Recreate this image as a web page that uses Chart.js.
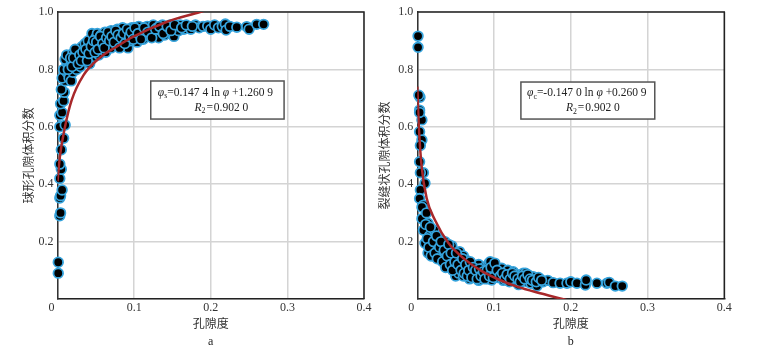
<!DOCTYPE html>
<html>
<head>
<meta charset="utf-8">
<script src="https://cdn.jsdelivr.net/npm/chart.js@4.4.1/dist/chart.umd.min.js"></script>
<style>
  body { margin: 0; background: #fff; }
  #wrap { position: relative; width: 775px; height: 351px; overflow: hidden; }
  canvas { position: absolute; top: 0; }
  #chartA { left: 0; }
  #chartB { left: 375px; }
</style>
</head>
<body>
<div id="wrap">
  <canvas id="chartA" width="375" height="351"></canvas>
  <canvas id="chartB" width="400" height="351"></canvas>
</div>
<script>
// tick labels
const xTickLabels = ['0\u2003', '0.1', '0.2', '0.3', '0.4'];
const yTickLabels = ['', '0.2', '0.4', '0.6', '0.8', '1.0'];

// a: spherical pore volume fraction vs porosity  [porosity, fraction]
const spherePoints = [
  [0.001,0.09],[0.001,0.128],[0.003,0.29],[0.004,0.30],[0.003,0.352],[0.004,0.36],[0.006,0.38],
  [0.003,0.42],[0.005,0.452],[0.003,0.47],[0.005,0.52],[0.008,0.56],[0.003,0.6],[0.010,0.606],
  [0.003,0.64],[0.006,0.65],[0.004,0.68],[0.008,0.69],[0.009,0.72],[0.005,0.73],[0.010,0.76],
  [0.006,0.77],[0.012,0.79],[0.008,0.8],[0.013,0.82],[0.010,0.835],[0.015,0.845],[0.012,0.85],
  [0.016,0.81],[0.015,0.77],[0.018,0.76],[0.02,0.79],[0.018,0.83],[0.02,0.855],[0.022,0.82],
  [0.024,0.86],[0.025,0.80],[0.026,0.84],[0.028,0.87],[0.03,0.81],[0.03,0.855],[0.032,0.88],
  [0.034,0.83],[0.035,0.865],[0.036,0.89],[0.038,0.845],[0.04,0.875],[0.04,0.90],[0.042,0.82],
  [0.043,0.86],[0.045,0.925],[0.046,0.89],[0.048,0.845],[0.05,0.87],[0.05,0.91],[0.052,0.925],
  [0.054,0.85],[0.055,0.895],[0.057,0.92],[0.058,0.87],[0.06,0.905],[0.062,0.93],[0.063,0.86],
  [0.065,0.885],[0.067,0.915],[0.07,0.935],[0.07,0.875],[0.072,0.9],[0.075,0.92],[0.077,0.885],
  [0.078,0.94],[0.08,0.905],[0.082,0.89],[0.084,0.93],[0.085,0.945],[0.087,0.905],[0.09,0.92],
  [0.092,0.875],[0.093,0.935],[0.095,0.9],[0.097,0.945],[0.1,0.915],[0.102,0.935],[0.104,0.895],
  [0.106,0.95],[0.108,0.92],[0.11,0.94],[0.112,0.905],[0.115,0.93],[0.117,0.95],[0.12,0.915],
  [0.122,0.94],[0.125,0.955],[0.127,0.925],[0.13,0.945],[0.132,0.91],[0.135,0.935],[0.137,0.955],
  [0.14,0.92],[0.142,0.945],[0.145,0.93],[0.147,0.955],[0.15,0.94],[0.152,0.915],[0.155,0.95],
  [0.158,0.935],[0.16,0.955],[0.165,0.94],[0.17,0.95],[0.174,0.94],[0.18,0.955],[0.185,0.945],
  [0.19,0.95],[0.196,0.951],[0.2,0.94],[0.205,0.955],[0.21,0.945],[0.215,0.95],[0.219,0.958],
  [0.22,0.937],[0.225,0.95],[0.234,0.947],[0.247,0.949],[0.25,0.94],[0.26,0.957],[0.269,0.957],
  [0.014,0.80],[0.017,0.84],[0.019,0.81],[0.021,0.84],[0.023,0.87],[0.027,0.82],[0.029,0.85],
  [0.031,0.83],[0.033,0.86],[0.037,0.87],[0.039,0.83],[0.041,0.855],[0.044,0.88],[0.047,0.9],
  [0.049,0.86],[0.051,0.895],[0.053,0.87],[0.056,0.915],[0.059,0.89],[0.061,0.875],[0.064,0.91],
  [0.066,0.93],[0.068,0.9],[0.071,0.915],[0.074,0.895],[0.076,0.935],[0.079,0.92],[0.081,0.875],
  [0.083,0.91],[0.086,0.925],[0.088,0.89],[0.091,0.94],[0.094,0.915],[0.096,0.93],[0.099,0.905],
  [0.101,0.945],[0.105,0.925],[0.109,0.905],[0.113,0.945],[0.118,0.93],[0.123,0.91],[0.128,0.94],
  [0.133,0.95],[0.138,0.925],[0.143,0.95],[0.148,0.935],[0.153,0.955],[0.162,0.945],[0.168,0.955],
  [0.176,0.95]
];

// b: crack-like pore volume fraction vs porosity  [porosity, fraction]
const crackPoints = [
  [0.001,0.916],[0.001,0.877],[0.0035,0.703],[0.002,0.71],[0.003,0.658],[0.006,0.624],[0.003,0.65],
  [0.003,0.583],[0.006,0.554],[0.004,0.535],[0.003,0.478],[0.008,0.44],[0.004,0.44],[0.01,0.403],
  [0.004,0.38],[0.003,0.35],[0.008,0.327],[0.006,0.32],[0.006,0.28],[0.008,0.24],[0.014,0.264],
  [0.012,0.3],[0.01,0.194],[0.019,0.205],[0.014,0.16],[0.016,0.22],[0.02,0.17],[0.022,0.24],
  [0.024,0.19],[0.027,0.17],[0.028,0.21],[0.03,0.145],[0.032,0.185],[0.034,0.16],[0.036,0.153],
  [0.036,0.2],[0.038,0.13],[0.04,0.113],[0.04,0.17],[0.042,0.145],[0.045,0.185],[0.047,0.125],
  [0.048,0.16],[0.05,0.08],[0.05,0.14],[0.052,0.105],[0.054,0.09],[0.055,0.165],[0.056,0.13],
  [0.058,0.115],[0.06,0.08],[0.06,0.15],[0.062,0.1],[0.064,0.135],[0.066,0.113],[0.068,0.07],
  [0.07,0.12],[0.072,0.095],[0.074,0.085],[0.075,0.078],[0.077,0.11],[0.08,0.065],[0.08,0.12],
  [0.082,0.095],[0.085,0.075],[0.087,0.11],[0.09,0.085],[0.092,0.07],[0.093,0.124],[0.095,0.13],
  [0.097,0.066],[0.1,0.095],[0.102,0.115],[0.105,0.075],[0.107,0.09],[0.11,0.107],[0.112,0.065],
  [0.115,0.085],[0.118,0.1],[0.12,0.06],[0.122,0.08],[0.125,0.095],[0.128,0.066],[0.13,0.085],
  [0.132,0.05],[0.135,0.075],[0.138,0.09],[0.141,0.09],[0.143,0.06],[0.145,0.08],[0.148,0.055],
  [0.151,0.078],[0.153,0.065],[0.156,0.045],[0.16,0.07],[0.164,0.06],[0.17,0.065],[0.177,0.057],
  [0.186,0.055],[0.195,0.055],[0.2,0.06],[0.208,0.055],[0.219,0.049],[0.22,0.066],[0.234,0.055],
  [0.247,0.055],[0.25,0.058],[0.258,0.045],[0.267,0.045],
  [0.011,0.26],[0.013,0.21],[0.015,0.18],[0.017,0.25],[0.018,0.15],[0.021,0.2],[0.023,0.16],
  [0.025,0.22],[0.026,0.14],[0.029,0.18],[0.031,0.2],[0.033,0.13],[0.035,0.17],[0.037,0.11],
  [0.039,0.15],[0.041,0.19],[0.043,0.12],[0.044,0.16],[0.046,0.1],[0.049,0.13],[0.051,0.16],
  [0.053,0.12],[0.057,0.1],[0.059,0.14],[0.061,0.09],[0.063,0.12],[0.065,0.08],[0.067,0.1],
  [0.069,0.13],[0.071,0.075],[0.073,0.11],[0.076,0.1],[0.078,0.07],[0.081,0.105],[0.083,0.08],
  [0.086,0.095],[0.088,0.07],[0.091,0.1],[0.094,0.08],[0.096,0.11],[0.099,0.075],[0.101,0.125],
  [0.104,0.1],[0.108,0.08],[0.111,0.09],[0.114,0.07],[0.117,0.085],[0.121,0.07],[0.124,0.09],
  [0.127,0.08],[0.131,0.07],[0.134,0.06],[0.137,0.08],[0.14,0.07],[0.144,0.085],[0.147,0.07],
  [0.15,0.065],[0.155,0.06],[0.158,0.075],[0.162,0.065]
];

// fitted curves
const sphereFit = [
  [0.0,0.41],[0.0033,0.50],[0.0098,0.60],[0.0185,0.693],[0.034,0.78],[0.055,0.84],
  [0.077,0.879],[0.099,0.914],[0.143,0.966],[0.186,1.0],[0.2,1.012]
];
const crackFit = [
  [0.0,0.74],[0.002,0.6],[0.0057,0.46],[0.0123,0.35],[0.023,0.275],[0.0405,0.195],[0.062,0.138],
  [0.084,0.097],[0.106,0.068],[0.13,0.043],[0.16,0.02],[0.189,0.0],[0.2,-0.008]
];

const serif = '"Liberation Serif", "Times New Roman", serif';
const cjk = '"Noto Sans CJK SC", sans-serif';

function drawRich(ctx, segs, cx, cy, size) {
  const fontOf = s => (s.it ? 'italic ' : '') + (s.sub ? size * 0.68 : size) + 'px ' + serif;
  let total = 0;
  const widths = segs.map(s => { ctx.font = fontOf(s); const w = ctx.measureText(s.t).width; total += w; return w; });
  let x = cx - total / 2;
  segs.forEach((s, i) => {
    ctx.font = fontOf(s);
    ctx.fillText(s.t, x, cy + (s.sub ? size * 0.3 : 0));
    x += widths[i];
  });
}

const framePlugin = {
  id: 'frame',
  beforeDatasetsDraw(chart) {
    const { ctx, chartArea: a } = chart;
    ctx.save();
    ctx.strokeStyle = '#222';
    ctx.lineWidth = 1.5;
    ctx.beginPath();
    ctx.moveTo(a.left, a.top);
    ctx.lineTo(a.right, a.top);
    ctx.lineTo(a.right, a.bottom);
    ctx.stroke();
    ctx.restore();
  },
  afterDatasetsDraw(chart, args, opts) {
    const { ctx, scales: { x, y } } = chart;
    const b = opts.box;
    const l = x.getPixelForValue(b.x0), r = x.getPixelForValue(b.x1);
    const t = y.getPixelForValue(b.y0), bt = y.getPixelForValue(b.y1);
    ctx.save();
    ctx.fillStyle = '#fff';
    ctx.fillRect(l, t, r - l, bt - t);
    ctx.strokeStyle = '#555';
    ctx.lineWidth = 1.5;
    ctx.strokeRect(l, t, r - l, bt - t);
    ctx.fillStyle = '#222';
    ctx.textBaseline = 'middle';
    const cx = (l + r) / 2, cy = (t + bt) / 2;
    opts.lines.forEach(line => drawRich(ctx, line.segs, cx + line.dx, cy + line.dy, 11.5));
    ctx.restore();
  },
  afterDraw(chart, args, opts) {
    const { ctx, chartArea: a } = chart;
    ctx.save();
    ctx.fillStyle = '#222';
    ctx.font = '12px ' + serif;
    ctx.textAlign = 'center';
    ctx.textBaseline = 'middle';
    ctx.fillText(opts.caption, (a.left + a.right) / 2, 342);
    ctx.restore();
  }
};

function makeChart(id, points, fit, cfg) {
  const ctx = document.getElementById(id).getContext('2d');
  return new Chart(ctx, {
    type: 'scatter',
    data: {
      datasets: [
        {
          type: 'line',
          data: fit.map(p => ({ x: p[0], y: p[1] })),
          borderColor: '#a8282a',
          borderWidth: 2.5,
          pointRadius: 0,
          fill: false,
          cubicInterpolationMode: 'monotone',
          clip: 0,
          order: 0
        },
        {
          data: points.map(p => ({ x: p[0], y: p[1] })),
          backgroundColor: '#000',
          borderColor: '#35a3dc',
          borderWidth: 1.8,
          pointRadius: 4.8,
          pointHoverRadius: 4.8,
          clip: false,
          order: 1
        }
      ]
    },
    options: {
      responsive: false,
      animation: false,
      devicePixelRatio: 1,
      layout: { padding: { left: 0, top: 12, right: cfg.padRight, bottom: 0 } },
      plugins: {
        legend: { display: false },
        tooltip: { enabled: false },
        frame: { box: cfg.box, lines: cfg.lines, caption: cfg.caption }
      },
      scales: {
        x: {
          type: 'linear',
          min: 0,
          max: 0.4,
          afterFit: s => { s.height = 52; },
          ticks: {
            stepSize: 0.1,
            padding: 2,
            color: '#333',
            font: { family: serif, size: 12 },
            callback: (v, i) => xTickLabels[i]
          },
          grid: { color: '#d4d4d4', lineWidth: 1.5, drawTicks: false },
          border: { color: '#222', width: 1.5 },
          title: {
            display: true,
            text: '孔隙度',
            color: '#333',
            font: { family: cjk, size: 12 },
            padding: { top: 0, bottom: 20 }
          }
        },
        y: {
          type: 'linear',
          min: 0,
          max: 1,
          afterFit: s => { s.width = cfg.yWidth; },
          ticks: {
            stepSize: 0.2,
            padding: 4,
            color: '#333',
            font: { family: serif, size: 12 },
            callback: (v, i) => yTickLabels[i]
          },
          grid: { color: '#d4d4d4', lineWidth: 1.5, drawTicks: false },
          border: { color: '#333', width: 1.5 },
          title: {
            display: true,
            text: cfg.yTitle,
            color: '#333',
            font: { family: cjk, size: 12 },
            padding: { top: cfg.yTitlePad, bottom: 0 }
          }
        }
      }
    },
    plugins: [framePlugin]
  });
}

makeChart('chartA', spherePoints, sphereFit, {
  yTitle: '球形孔隙体积分数',
  yWidth: 57.5,
  yTitlePad: 21,
  padRight: 11,
  caption: 'a',
  box: { x0: 0.1217, x1: 0.2957, y0: 0.7596, y1: 0.627 },
  lines: [
    { dx: -2, dy: -7.5, segs: [{ t: 'φ', it: true }, { t: 's', sub: true }, { t: '=0.147 4 ln ' }, { t: 'φ', it: true }, { t: ' +1.260 9' }] },
    { dx: 4, dy: 7.5, segs: [{ t: 'R', it: true }, { t: '2', sub: true }, { t: '\u200a=\u200a0.902 0' }] }
  ]
});

makeChart('chartB', crackPoints, crackFit, {
  yTitle: '裂缝状孔隙体积分数',
  yWidth: 42.3,
  yTitlePad: 2.5,
  padRight: 50.7,
  caption: 'b',
  box: { x0: 0.135, x1: 0.3094, y0: 0.756, y1: 0.627 },
  lines: [
    { dx: -1, dy: -7.5, segs: [{ t: 'φ', it: true }, { t: 'c', sub: true }, { t: '=-0.147 0 ln ' }, { t: 'φ', it: true }, { t: ' +0.260 9' }] },
    { dx: 5, dy: 7.5, segs: [{ t: 'R', it: true }, { t: '2', sub: true }, { t: '\u200a=\u200a0.902 0' }] }
  ]
});
</script>
</body>
</html>
